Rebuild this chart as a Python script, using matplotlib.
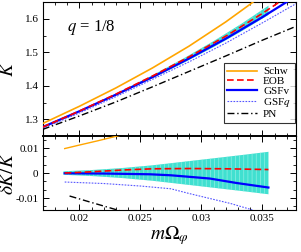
import matplotlib
matplotlib.use("Agg")
from matplotlib import pyplot
from matplotlib.ticker import MultipleLocator, AutoMinorLocator
import numpy as np

pyplot.rcParams["font.family"] = ["Liberation Serif", "DejaVu Serif"]
pyplot.rcParams["mathtext.fontset"] = "stix"
pyplot.rcParams["hatch.linewidth"] = 0.5

# ---- top panel: K vs m*Omega_phi
m_schw = [0.017, 0.020, 0.023, 0.026, 0.029, 0.032, 0.034, 0.035]
K_schw = [1.2876, 1.3388, 1.3937, 1.4534, 1.5185, 1.5906, 1.6433, 1.6718]

m_mod = [0.017, 0.020, 0.023, 0.026, 0.029, 0.032, 0.035, 0.038]
K_eob = [1.2769, 1.3245, 1.3753, 1.4293, 1.4865, 1.5480, 1.6158, 1.6892]
K_gsfv = [1.2769, 1.3240, 1.3735, 1.4261, 1.4817, 1.5406, 1.6048, 1.6729]
K_gsfq = [1.2730, 1.3190, 1.3677, 1.4194, 1.4716, 1.5273, 1.5877, 1.6500]
K_pn = [1.2700, 1.3100, 1.3520, 1.3970, 1.4430, 1.4890, 1.5360, 1.5810]

# NR data with its relative error
m_nr = [0.0187, 0.0210, 0.0235, 0.0260, 0.0285, 0.0310, 0.0333, 0.0355]
K_nr = [1.3033, 1.3404, 1.3824, 1.4270, 1.4741, 1.5243, 1.5741, 1.6252]
err_nr = [0.0007, 0.0012, 0.0020, 0.0031, 0.0045, 0.0059, 0.0072, 0.0085]

# ---- bottom panel: dK/K relative to NR
m_d_schw = [0.0188, 0.0200, 0.0215, 0.0230, 0.0236]
d_schw = [0.0098, 0.0112, 0.0129, 0.0147, 0.0154]
m_d_eob = [0.0188, 0.0210, 0.0235, 0.0260, 0.0290, 0.0320, 0.0355]
d_eob = [0.0000, 0.0005, 0.0012, 0.0017, 0.0018, 0.0017, 0.0014]
m_d_gsfv = [0.0188, 0.0220, 0.0258, 0.0275, 0.0307, 0.0329, 0.0355]
d_gsfv = [-0.0001, -0.0002, -0.0005, -0.0009, -0.0022, -0.0040, -0.0058]
m_d_gsfq = [0.0188, 0.0220, 0.0250, 0.0275, 0.0290, 0.0307, 0.0324, 0.0340, 0.0344]
d_gsfq = [-0.0036, -0.0042, -0.0052, -0.0063, -0.0082, -0.0102, -0.0122, -0.0145, -0.0152]
m_d_pn = [0.0192, 0.0210, 0.0229, 0.0234]
d_pn = [-0.0092, -0.0118, -0.0145, -0.0152]

c_schw = "#FFA500"
c_eob = "#FF0000"
c_gsfv = "#0000FF"
c_gsfq = "#5555FF"
c_nr = "#40E0D0"

fig = pyplot.figure(figsize=(3.01, 2.52), dpi=100)
ax1 = fig.add_axes([0.142, 0.460, 0.843, 0.532])
ax2 = fig.add_axes([0.142, 0.1667, 0.843, 0.2933])

m_nr_a = np.array(m_nr)
K_nr_a = np.array(K_nr)
err_a = np.array(err_nr)
ax1.fill_between(m_nr_a, K_nr_a * (1 - err_a), K_nr_a * (1 + err_a), facecolor=c_nr,
                 edgecolor="#8eeee4", hatch="||||", linewidth=0, zorder=1)
ax1.plot(m_schw, K_schw, color=c_schw, lw=1.2, label="Schw", zorder=3)
ax1.plot(m_mod, K_eob, color=c_eob, lw=1.2, ls=(0, (4, 2)), label="EOB", zorder=4)
ax1.plot(m_mod, K_gsfv, color=c_gsfv, lw=1.6, label="GSFv", zorder=3)
ax1.plot(m_mod, K_gsfq, color=c_gsfq, lw=0.8, ls=(0, (1.5, 1.2)), label="GSF$q$", zorder=3)
ax1.plot(m_mod, K_pn, color="black", lw=1.0, ls=(0, (5, 2, 1, 2)), label="PN", zorder=3)

ax1.set_xlim(0.017, 0.0378)
ax1.set_ylim(1.25, 1.65)
ax1.set_ylabel("$K$", fontsize=14)
ax1.text(0.19, 0.81, "$q$ = 1/8", transform=ax1.transAxes, fontsize=12, ha="center", va="center")
leg = ax1.legend(loc="lower right", bbox_to_anchor=(0.993, 0.1), fontsize=8, frameon=True,
                 fancybox=False, edgecolor="black", handlelength=2.7, labelspacing=0.0,
                 borderpad=0.35, handletextpad=0.5, borderaxespad=0.0)
leg.get_frame().set_linewidth(0.8)
ax1.tick_params(labelbottom=False)

ax2.fill_between(m_nr_a, -err_a, err_a, facecolor=c_nr, edgecolor="#8eeee4",
                 hatch="||||", linewidth=0, zorder=1)
ax2.plot(m_d_schw, d_schw, color=c_schw, lw=1.0, zorder=3)
ax2.plot(m_d_eob, d_eob, color=c_eob, lw=1.2, ls=(0, (4, 2)), zorder=4)
ax2.plot(m_d_gsfv, d_gsfv, color=c_gsfv, lw=1.6, zorder=3)
ax2.plot(m_d_gsfq, d_gsfq, color=c_gsfq, lw=0.8, ls=(0, (1.5, 1.2)), zorder=3)
ax2.plot(m_d_pn, d_pn, color="black", lw=1.0, ls=(0, (5, 2, 1, 2)), zorder=3)
ax2.set_xlim(0.017, 0.0378)
ax2.set_ylim(-0.0148, 0.0148)
ax2.set_yticks([-0.01, 0, 0.01])
ax2.set_yticklabels(["-0.01", "0", "0.01"])
ax2.set_xticks([0.02, 0.025, 0.03, 0.035])
ax2.set_xticklabels(["0.02", "0.025", "0.03", "0.035"])
ax2.set_ylabel(r"$\delta K/K$", fontsize=14)
ax2.set_xlabel(r"$m\Omega_{\varphi}$", fontsize=14, labelpad=1)

for ax in (ax1, ax2):
    ax.xaxis.set_major_locator(MultipleLocator(0.005))
    ax.xaxis.set_minor_locator(MultipleLocator(0.001))
    ax.tick_params(which="both", direction="in", top=True, right=True, labelsize=8, pad=3)
    ax.tick_params(which="major", length=4, width=0.7)
    ax.tick_params(which="minor", length=2, width=0.6)
    for s in ax.spines.values():
        s.set_linewidth(0.8)
ax1.yaxis.set_major_locator(MultipleLocator(0.1))
ax1.yaxis.set_minor_locator(AutoMinorLocator(2))
ax2.yaxis.set_minor_locator(AutoMinorLocator(3))
ax2.spines["top"].set_linewidth(1.4)
ax1.yaxis.set_label_coords(-0.1, 0.5)
ax2.yaxis.set_label_coords(-0.1, 0.5)

pyplot.savefig("out.png", dpi=100)
